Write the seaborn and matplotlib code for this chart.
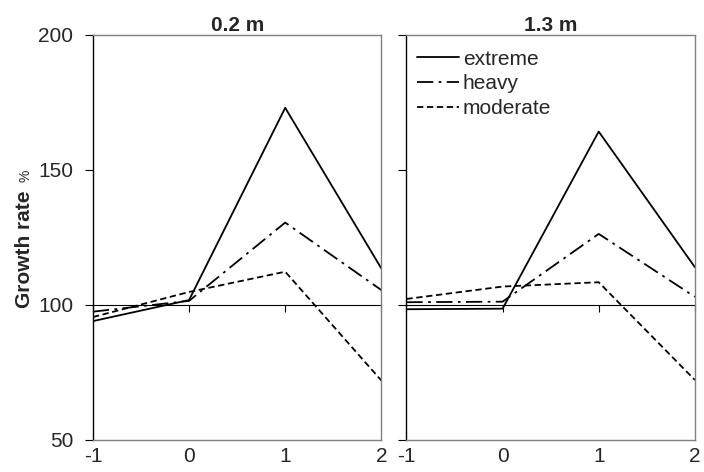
import pandas as pd
import matplotlib
matplotlib.use('Agg')
import matplotlib.pyplot as plt
import seaborn as sns

# Data
years = [-1, 0, 1, 2]
series_names = ["extreme", "heavy", "moderate"]
depth_02_extreme = [94.0, 101.8, 173.0, 113.5]
depth_02_heavy = [97.5, 101.5, 130.5, 105.5]
depth_02_moderate = [95.5, 104.8, 112.3, 72.0]
depth_13_extreme = [98.4, 98.6, 164.2, 114.0]
depth_13_heavy = [101.0, 101.2, 126.3, 103.0]
depth_13_moderate = [102.2, 106.8, 108.4, 72.2]
panel_titles = ["0.2 m", "1.3 m"]


def _long_df(extreme, heavy, moderate):
    rows = []
    for name, vals in zip(series_names, [extreme, heavy, moderate]):
        for x, y in zip(years, vals):
            rows.append({"year": x, "rate": y, "series": name})
    return pd.DataFrame(rows)


panels = [
    _long_df(depth_02_extreme, depth_02_heavy, depth_02_moderate),
    _long_df(depth_13_extreme, depth_13_heavy, depth_13_moderate),
]

sns.set_style("white")
plt.rcParams['font.family'] = ['Liberation Sans', 'DejaVu Sans']
plt.rcParams['axes.unicode_minus'] = False

dashes = {"extreme": "", "heavy": (9, 3, 1.5, 3), "moderate": (3.5, 2)}

fig, axes = plt.subplots(1, 2, figsize=(7.04, 4.72), dpi=100, sharey=True)
fig.subplots_adjust(left=0.132, right=0.987, top=0.926, bottom=0.068, wspace=0.087)

for i, (ax, df) in enumerate(zip(axes, panels)):
    sns.lineplot(data=df, x="year", y="rate", style="series", dashes=dashes,
                 color="black", linewidth=1.3, legend=(i == 1), ax=ax)
    ax.set_xlim(-1, 2)
    ax.set_ylim(50, 200)
    ax.set_yticks([50, 100, 150, 200])
    ax.set_xticks(years)
    ax.tick_params(axis='x', length=0, labelsize=15, pad=5)
    ax.tick_params(axis='y', direction='out', length=6, width=0.8,
                   color='black', labelsize=15, left=True, pad=8)
    ax.set_xlabel("")
    ax.set_ylabel("")
    ax.set_title(panel_titles[i], fontsize=15, fontweight='bold', pad=3)
    for side in ['top', 'right', 'bottom']:
        ax.spines[side].set_color('#808080')
        ax.spines[side].set_linewidth(1.0)
    ax.spines['left'].set_color('black')
    ax.spines['left'].set_linewidth(1.0)

    # reference line at 100 with tick marks
    sec = ax.secondary_xaxis(1 / 3)
    sec.set_xticks(years)
    sec.tick_params(direction='out', length=5, width=0.8, color='black',
                    labelbottom=False, labeltop=False)
    sec.spines['bottom'].set_color('black')
    sec.spines['bottom'].set_linewidth(0.8)

axes[1].tick_params(axis='y', labelleft=False)

leg = axes[1].legend(loc='upper left', bbox_to_anchor=(-0.014, 1.0),
                     frameon=False, fontsize=15,
                     handlelength=2.0, handletextpad=0.2, labelspacing=0.28,
                     borderaxespad=0.5, borderpad=0.2)

fig.text(0.035, 0.472, "Growth rate", rotation=90, fontsize=15,
         fontweight='bold', ha='center', va='center')
fig.text(0.036, 0.627, "%", rotation=90, fontsize=10,
         ha='center', va='center')

plt.savefig("out.png", dpi=100)
plt.close(fig)
